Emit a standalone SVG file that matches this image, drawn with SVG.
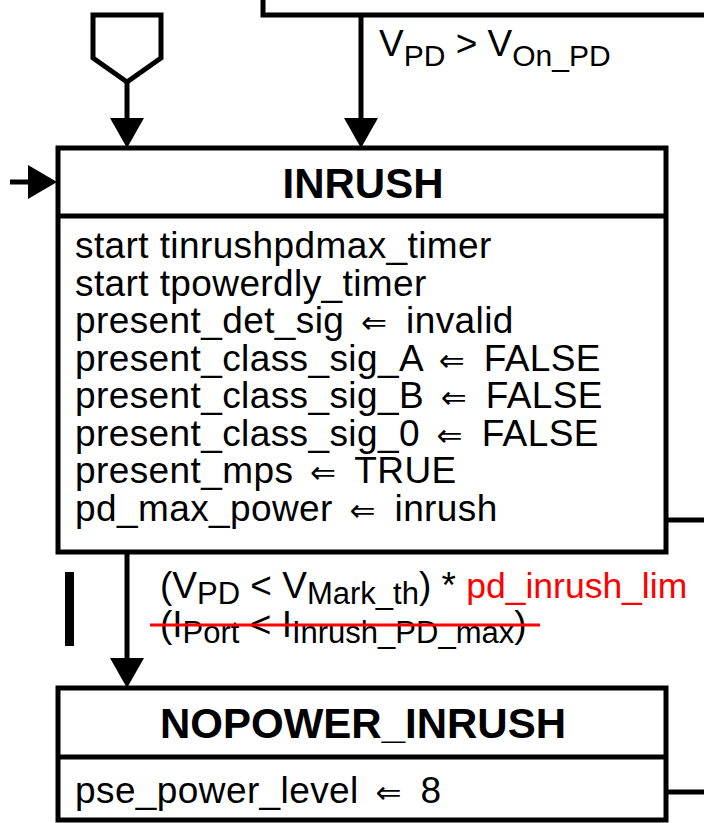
<svg xmlns="http://www.w3.org/2000/svg" width="704" height="823" viewBox="0 0 704 823">
<style>
.ln{stroke:#000;stroke-width:5;fill:none}
.box{stroke:#000;stroke-width:5;fill:#fff}
.t{font-family:"Liberation Sans",Arial,sans-serif;font-size:37px;fill:#000}
.b{letter-spacing:0.4px}
.ti{font-family:"Liberation Sans",Arial,sans-serif;font-size:42px;font-weight:bold;fill:#000;text-anchor:middle}
.sym{font-family:"DejaVu Sans",sans-serif;font-size:31px}
.red{fill:#ff0000;font-size:35.5px}
</style>
<g id="connectors">
<path class="ln" d="M93,15 H161 V58 L127,82 L93,58 Z" fill="#fff"/>
<line class="ln" x1="127" y1="82" x2="127" y2="120"/>
<path d="M110,118 L144,118 L127,148 Z" fill="#000"/>
<polyline class="ln" points="263,0 263,15 704,15"/>
<line class="ln" x1="361" y1="15" x2="361" y2="120"/>
<path d="M344,118 L378,118 L361,148 Z" fill="#000"/>
<line class="ln" x1="10" y1="182" x2="30" y2="182"/>
<path d="M28,165 L57,182 L28,199 Z" fill="#000"/>
<line class="ln" x1="666" y1="520" x2="704" y2="520"/>
<line class="ln" x1="127" y1="552" x2="127" y2="660"/>
<path d="M110,658 L144,658 L127,688 Z" fill="#000"/>
<rect x="65" y="572" width="9" height="74" fill="#000"/>
<line class="ln" x1="666" y1="792" x2="704" y2="792"/>
<text class="t" x="379" y="56" font-size="37">V<tspan font-size="30" dy="10">PD</tspan><tspan dy="-10"> &gt; V</tspan><tspan font-size="30" dy="10">On_PD</tspan></text>
<text class="t" x="160" y="598">(V<tspan font-size="31" dy="6">PD</tspan><tspan dy="-6"> &lt; V</tspan><tspan font-size="31" dy="6">Mark_th</tspan><tspan dy="-6">) * </tspan><tspan class="red">pd_inrush_lim</tspan></text>
<text class="t" x="160" y="637">(I<tspan font-size="31" dy="6">Port</tspan><tspan dy="-6"> &lt; I</tspan><tspan font-size="31" dy="6">Inrush_PD_max</tspan><tspan dy="-6">)</tspan></text>
<line x1="150" y1="625" x2="540" y2="625" stroke="#ff0000" stroke-width="3"/>
</g>
<g id="inrush">
<rect class="box" x="58" y="148" width="608" height="404"/>
<line class="ln" x1="58" y1="216" x2="666" y2="216"/>
<text class="ti" x="363" y="198">INRUSH</text>
<text class="t b" x="75" y="258">start tinrushpdmax_timer</text>
<text class="t b" x="75" y="295.5">start tpowerdly_timer</text>
<text class="t b" x="75" y="333">present_det_sig <tspan class="sym" dx="6">⇐</tspan><tspan dx="8"> invalid</tspan></text>
<text class="t b" x="75" y="370.5">present_class_sig_A <tspan class="sym" dx="6">⇐</tspan><tspan dx="8"> FALSE</tspan></text>
<text class="t b" x="75" y="408">present_class_sig_B <tspan class="sym" dx="6">⇐</tspan><tspan dx="8"> FALSE</tspan></text>
<text class="t b" x="75" y="445.5">present_class_sig_0 <tspan class="sym" dx="6">⇐</tspan><tspan dx="8"> FALSE</tspan></text>
<text class="t b" x="75" y="483">present_mps <tspan class="sym" dx="6">⇐</tspan><tspan dx="8"> TRUE</tspan></text>
<text class="t b" x="75" y="520.5">pd_max_power <tspan class="sym" dx="6">⇐</tspan><tspan dx="8"> inrush</tspan></text>
</g>
<g id="nopower_inrush">
<rect class="box" x="58" y="688" width="608" height="132"/>
<line class="ln" x1="58" y1="757" x2="666" y2="757"/>
<text class="ti" x="363" y="738">NOPOWER_INRUSH</text>
<text class="t b" x="75" y="803">pse_power_level <tspan class="sym" dx="6">⇐</tspan><tspan dx="8"> 8</tspan></text>
</g>
</svg>
